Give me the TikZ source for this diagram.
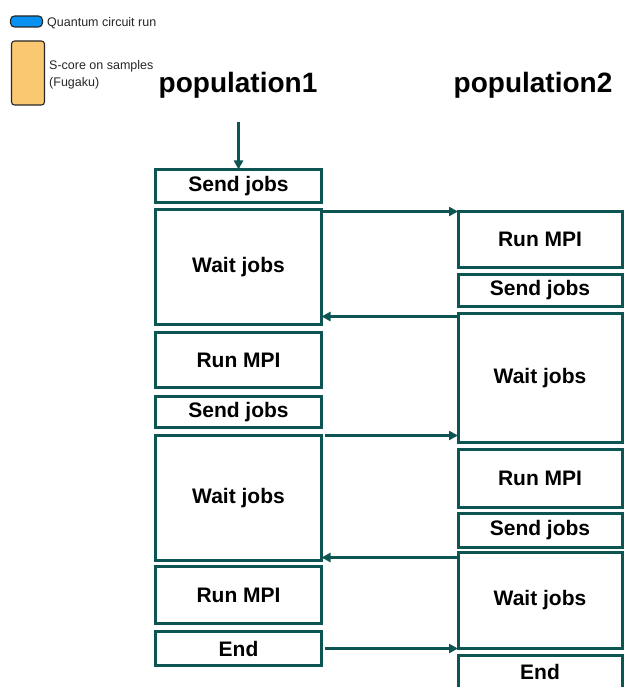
\documentclass[tikz,border=0pt]{standalone}
\usepackage{fontspec}
\setmainfont{Liberation Sans}
\usetikzlibrary{arrows.meta}

\definecolor{flowteal}{RGB}{12,85,82}
\definecolor{qblue}{RGB}{8,145,240}
\definecolor{sorange}{RGB}{250,200,112}

\tikzset{
  stepbox/.style={draw=flowteal, line width=3pt, fill=white, inner sep=0pt, outer sep=0pt,
    text=black, font=\bfseries\fontsize{21}{21}\selectfont},
  colL/.style={stepbox, minimum width=166pt},
  colR/.style={stepbox, minimum width=164pt},
  arr/.style={draw=flowteal, line width=3pt, -{Triangle[length=9pt,width=9pt]}},
  poplabel/.style={anchor=base, text=black, font=\bfseries\fontsize{28}{28}\selectfont},
  legtext/.style={anchor=base west, inner sep=0pt, text=black!85, font=\fontsize{12.5}{14}\selectfont},
  legbox/.style={draw=black!85, line width=1.1pt, inner sep=0pt}
}

\begin{document}
\begin{tikzpicture}[x=1pt, y=-1pt]
\useasboundingbox (0,0) rectangle (624,687);
\clip (0,0) rectangle (624,687);

% legend
\node[legbox, fill=qblue, rounded corners=4pt, minimum width=32pt, minimum height=11pt] (lq) at (26.5,21.5) {};
\node[legtext] (tq) at (47,27) {Quantum circuit run};
\node[legbox, fill=sorange, rounded corners=3pt, minimum width=33pt, minimum height=64pt] (ls) at (28,73) {};
\node[legtext] (ts1) at (49,70) {S-core on samples};
\node[legtext] (ts2) at (49,87) {(Fugaku)};

% column headings
\node[poplabel] (p1) at (238,93) {population1};
\node[poplabel] (p2) at (533,93) {population2};

% population 1
\node[colL, minimum height=33pt]  (sendL1) at (238.5,186)   {Send jobs};
\node[colL, minimum height=115pt] (waitL1) at (238.5,267)   {Wait jobs};
\node[colL, minimum height=55pt]  (runL1)  at (238.5,360)   {Run MPI};
\node[colL, minimum height=31pt]  (sendL2) at (238.5,412)   {Send jobs};
\node[colL, minimum height=125pt] (waitL2) at (238.5,498)   {Wait jobs};
\node[colL, minimum height=57pt]  (runL2)  at (238.5,595)   {Run MPI};
\node[colL, minimum height=34pt]  (endL)   at (238.5,648.5) {End};

% population 2
\node[colR, minimum height=56pt]  (runR1)  at (540,239.5) {Run MPI};
\node[colR, minimum height=32pt]  (sendR1) at (540,290.5) {Send jobs};
\node[colR, minimum height=129pt] (waitR1) at (540,378)   {Wait jobs};
\node[colR, minimum height=58pt]  (runR2)  at (540,478.5) {Run MPI};
\node[colR, minimum height=34pt]  (sendR2) at (540,530.5) {Send jobs};
\node[colR, minimum height=96pt]  (waitR2) at (540,600.5) {Wait jobs};
\node[colR, minimum height=33.5pt] (endR)  at (540,672.25) {End};

% connectors
\coordinate (start) at (238.5,122);
\draw[arr] (start) -- (sendL1.north);

\draw[arr] (runR1.north west -| waitL1.east) -- (runR1.north west);

\coordinate (b1) at ([yshift=-3pt]waitR1.north west);
\draw[arr] (b1) -- (b1 -| waitL1.east);

\coordinate (f2) at ([xshift=3pt]waitL2.north east);
\draw[arr] (f2) -- (f2 -| waitR1.west);

\coordinate (b2) at ([yshift=-5pt]waitR2.north west);
\draw[arr] (b2) -- (b2 -| waitL2.east);

\coordinate (f3) at ([xshift=3.5pt]endL.east);
\draw[arr] (f3) -- (waitR2.south west);
\end{tikzpicture}
\end{document}
